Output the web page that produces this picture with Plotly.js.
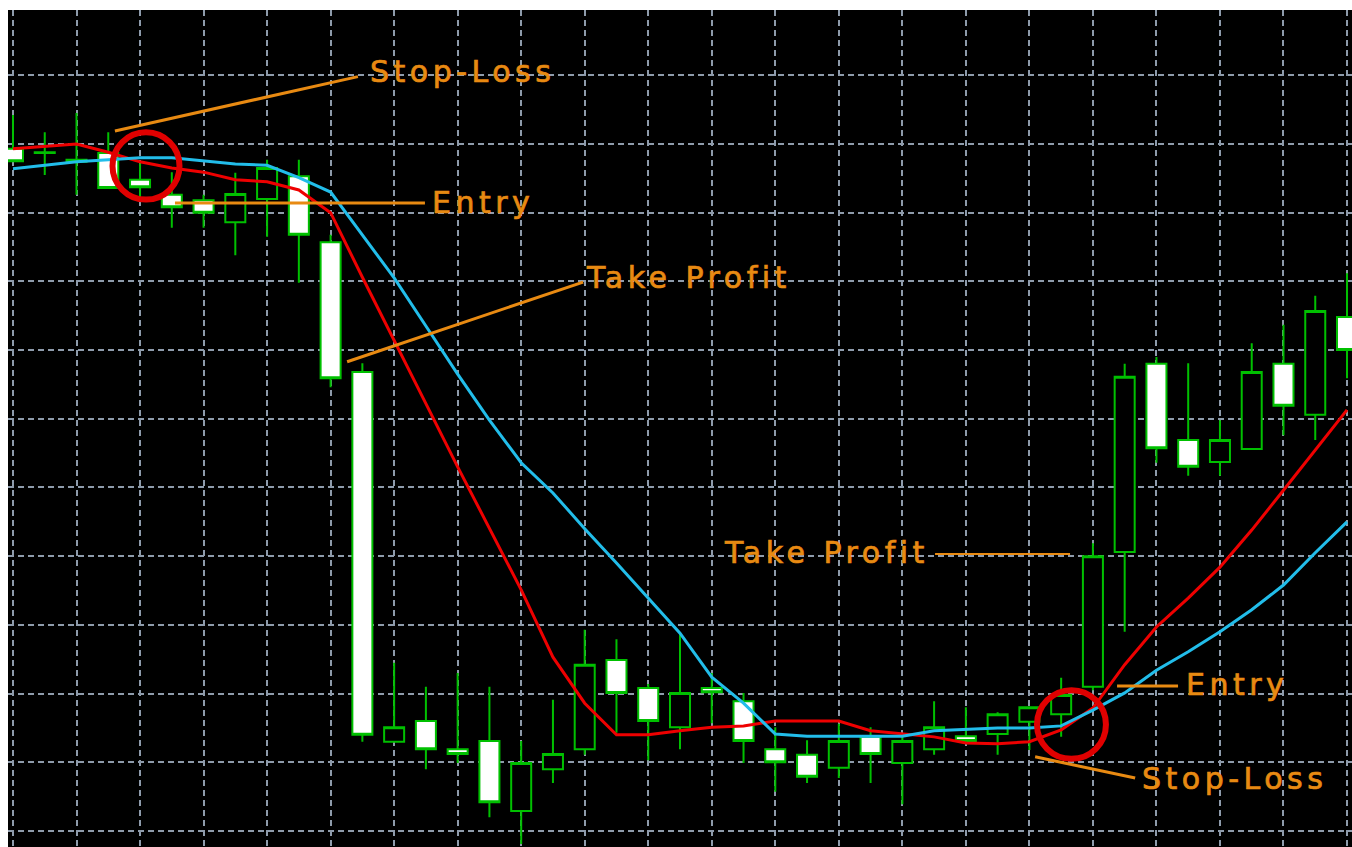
<!DOCTYPE html>
<html>
<head>
<meta charset="utf-8">
<script src="https://cdn.plot.ly/plotly-3.0.1.min.js"></script>
<style>
  html, body { margin: 0; padding: 0; background: #ffffff; }
  #chart { width: 1352px; height: 847px; }
  svg text.annotation-text { letter-spacing: 4.5px; paint-order: stroke; stroke: #e88a12; stroke-width: 0.7px; }
</style>
</head>
<body>
<div id="chart"></div>
<script>
// Bar index (time axis)
const barIndex = [0,1,2,3,4,5,6,7,8,9,10,11,12,13,14,15,16,17,18,19,20,21,22,23,24,25,26,27,28,29,30,31,32,33,34,35,36,37,38,39,40,41,42];

// OHLC prices (arbitrary price units)
const openPrices  = [199.3,198.7,197.4,198.7,194.8,192.6,191.8,188.6,192.0,195.3,185.7,166.8,113.0,116.0,111.9,113.1,102.9,109.0,111.9,124.9,120.8,115.1,120.8,118.9,111.9,111.1,109.2,113.7,109.9,111.9,113.8,114.1,115.9,117.0,121.0,140.6,168.0,156.9,153.7,155.6,168.0,160.6,174.8];
const highPrices  = [204.2,201.7,204.5,201.7,197.2,195.9,192.6,195.8,197.7,197.7,186.8,168.1,124.5,121.0,123.0,121.0,113.1,119.1,129.3,127.9,121.4,128.8,123.0,120.1,115.1,113.2,115.6,115.1,114.1,118.9,118.0,117.3,118.0,122.3,141.9,168.0,169.0,168.1,159.8,171.0,173.7,177.9,181.2];
const lowPrices   = [197.5,195.5,192.6,193.6,191.6,187.8,187.8,183.8,186.5,179.8,164.6,113.0,113.0,109.0,109.9,102.0,98.1,107.0,111.1,114.3,110.3,111.9,115.7,109.9,105.7,107.0,107.7,107.0,103.9,111.1,113.1,111.1,111.8,113.7,120.5,129.0,153.6,151.7,151.7,155.6,157.6,156.9,165.9];
const closePrices = [197.5,198.8,197.7,193.6,193.7,190.8,190.0,192.7,196.5,186.8,165.9,114.0,115.1,111.9,111.2,104.2,109.9,111.2,124.2,120.1,116.0,120.1,120.2,113.1,110.0,107.9,113.1,111.2,113.1,115.1,113.1,117.0,118.0,119.8,140.0,166.1,155.7,153.0,156.9,166.8,161.9,175.7,170.0];

// Moving averages
const fastMA = [199.3,199.7,200.0,198.8,197.4,196.5,195.9,194.8,194.5,193.3,190.0,180.6,171.5,162.2,153.0,144.1,135.1,125.3,118.6,114.0,114.0,114.6,115.1,115.3,116.0,116.0,116.0,114.6,114.1,113.7,112.8,112.7,113.0,114.7,117.9,124.2,129.7,133.9,138.4,143.8,149.6,155.5,161.3];
const slowMA = [196.4,196.9,197.4,197.7,198.0,198.0,197.5,197.1,196.9,195.1,193.0,186.8,180.5,173.5,166.5,159.8,153.6,149.2,144.0,139.0,133.9,128.8,122.4,118.6,114.1,113.8,113.8,113.8,113.8,114.6,114.8,115.0,115.0,115.3,117.6,120.1,123.4,126.1,129.0,132.2,135.8,140.5,145.0];

// Annotation labels
const labels = ["Stop-Loss", "Entry", "Take Profit", "Take Profit", "Entry", "Stop-Loss"];

const ORANGE = '#e88a12';
const GREEN = '#00c000';

const traces = [
  {
    type: 'candlestick',
    x: barIndex,
    open: openPrices, high: highPrices, low: lowPrices, close: closePrices,
    increasing: { line: { color: GREEN, width: 2 }, fillcolor: '#000000' },
    decreasing: { line: { color: GREEN, width: 2 }, fillcolor: '#ffffff' },
    whiskerwidth: 0,
    hoverinfo: 'skip',
    showlegend: false
  },
  {
    type: 'scatter', mode: 'lines',
    x: barIndex, y: fastMA,
    line: { color: '#ee0000', width: 3 },
    hoverinfo: 'skip', showlegend: false
  },
  {
    type: 'scatter', mode: 'lines',
    x: barIndex, y: slowMA,
    line: { color: '#22bdea', width: 3 },
    hoverinfo: 'skip', showlegend: false
  }
];

function ann(text, x, y) {
  return {
    text: text, x: x, y: y, xref: 'x', yref: 'y',
    showarrow: false, xanchor: 'center', yanchor: 'middle',
    font: { family: 'DejaVu Sans', size: 30, color: ORANGE }
  };
}
function seg(x0, y0, x1, y1, w) {
  return { type: 'line', xref: 'x', yref: 'y', x0: x0, y0: y0, x1: x1, y1: y1,
           line: { color: ORANGE, width: w || 3 } };
}
function ring(x0, y0, x1, y1) {
  return { type: 'circle', xref: 'x', yref: 'y', x0: x0, y0: y0, x1: x1, y1: y1,
           line: { color: '#e00000', width: 6 }, fillcolor: 'rgba(0,0,0,0)' };
}

const layout = {
  width: 1352, height: 847,
  margin: { l: 8, r: 0, t: 10, b: 0, pad: 0 },
  paper_bgcolor: '#ffffff',
  plot_bgcolor: '#000000',
  showlegend: false,
  hovermode: false,
  boxgap: 0.37,
  boxgroupgap: 0,
  xaxis: {
    range: [-0.157, 42.157],
    tick0: 0, dtick: 2,
    showticklabels: false, ticks: '',
    showgrid: true, gridcolor: '#8e9bab', gridwidth: 2, griddash: '6px,4px',
    zeroline: false, showline: false,
    rangeslider: { visible: false },
    fixedrange: true
  },
  yaxis: {
    range: [97.67, 219.5],
    tick0: 100, dtick: 10,
    showticklabels: false, ticks: '',
    showgrid: true, gridcolor: '#8e9bab', gridwidth: 2, griddash: '6px,4px',
    zeroline: false, showline: false,
    fixedrange: true
  },
  shapes: [
    seg(3.21, 201.9, 10.86, 209.8),
    seg(5.10, 191.4, 12.97, 191.4),
    seg(10.52, 168.3, 17.95, 179.9),
    seg(29.03, 140.3, 33.28, 140.3, 2),
    seg(34.76, 121.1, 36.68, 121.1),
    seg(32.18, 110.8, 35.33, 107.7),
    ring(3.133, 191.9, 5.242, 201.7),
    ring(32.24, 110.5, 34.41, 120.5)
  ],
  annotations: [
    ann(labels[0], 14.14, 210.6),
    ann(labels[1], 14.81, 191.5),
    ann(labels[2], 21.28, 180.5),
    ann(labels[3], 25.60, 140.6),
    ann(labels[4], 38.55, 121.3),
    ann(labels[5], 38.47, 107.7)
  ]
};

Plotly.newPlot('chart', traces, layout, { displayModeBar: false, staticPlot: true });
</script>
</body>
</html>
